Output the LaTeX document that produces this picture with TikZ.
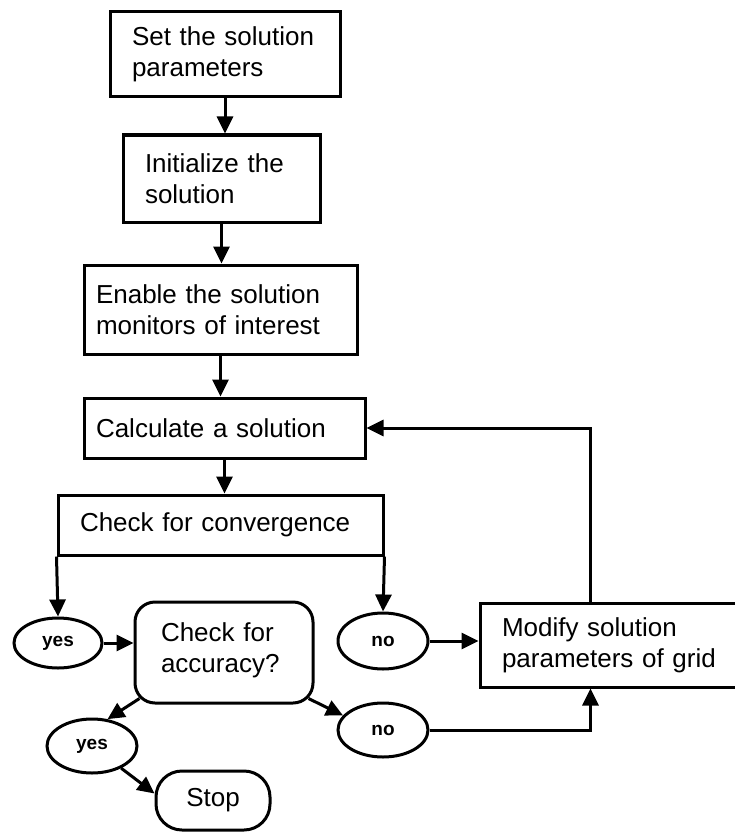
\documentclass[tikz,border=0pt]{standalone}
\usepackage{fontspec}
\setmainfont{Liberation Sans}
\usetikzlibrary{shapes.geometric,arrows.meta}
\begin{document}
\begin{tikzpicture}[x=1pt,y=-1pt,
  line width=3pt,
  every node/.style={font=\fontsize{26}{31}\selectfont},
  box/.style={draw, rectangle, inner xsep=#1, align=left, inner ysep=0pt},
  rbox/.style={draw, rectangle, rounded corners=#1, inner sep=0pt, align=left},
  oval/.style={draw, ellipse, inner sep=0pt, minimum width=90pt, minimum height=54pt,
    font=\fontsize{19}{22}\selectfont\bfseries},
  arr/.style={-{Triangle[length=17pt,width=16pt]}}
]
\useasboundingbox (0,0) rectangle (735,832);
% main boxes
\node[box=22pt, minimum width=230pt, minimum height=85pt, text width=186pt] (b1) at (225,54.5) {Set the solution\\parameters};
\node[box=22pt, minimum width=197pt, minimum height=87pt, text width=153pt] (b2) at (221.5,178.5) {Initialize the\\solution};
\node[box=12pt, minimum width=273pt, minimum height=89pt, text width=249pt] (b3) at (220.5,309.5) {Enable the solution\\monitors of interest};
\node[box=12pt, minimum width=281pt, minimum height=60pt, text width=257pt] (b4) at (224.5,428) {Calculate a solution};
\node[box=22pt, minimum width=325pt, minimum height=60pt, text width=281pt] (b5) at (220.5,525) {Check for convergence};
\node[box=22pt, minimum width=265pt, minimum height=84pt, text width=221pt] (mod) at (612.5,645) {Modify solution\\parameters of grid};
% rounded boxes
\node[rbox=20pt, minimum width=178pt, minimum height=101pt] (acc) at (224,652.5) {};
\node[text width=128pt, align=left, inner sep=0pt] (acct) at (225,650) {Check for\\accuracy?};
\node[rbox=26pt, minimum width=114pt, minimum height=59pt] (stop) at (213,800.5) {Stop};
% ovals
\node[oval, minimum width=88pt, minimum height=50pt] (yes1) at (58,643) {yes};
\node[oval, minimum height=56pt] (no1) at (383,641) {no};
\node[oval] (yes2) at (92,746) {yes};
\node[oval] (no2) at (383,730) {no};
% connectors
\draw[arr] (b1.south) -- (b1.south |- b2.north);
\draw[arr] (b2.south) -- (b2.south |- b3.north);
\draw[arr] (b3.south) -- (b3.south |- b4.north);
\draw[arr] (b4.south) -- (b4.south |- b5.north);
\draw[arr] (b5.south west) -- (yes1.north);
\draw[arr] (b5.south east) -- (no1.north);
\draw[arr] (yes1.east) -- (yes1.east -| acc.west);
\draw[arr] (no1.east) -- (no1.east -| mod.west);
\draw[arr] ([shift={(6,-6)}]acc.south west) -- (yes2.60);
\draw[arr] ([shift={(-6,-6)}]acc.south east) -- (no2.160);
\draw[arr] (yes2) -- ([yshift=7pt]stop.west);
\draw[arr] (no2.east) -| ([xshift=-22pt]mod.south);
\draw[arr] ([xshift=-22pt]mod.north) |- (b4.east);
\end{tikzpicture}
\end{document}
